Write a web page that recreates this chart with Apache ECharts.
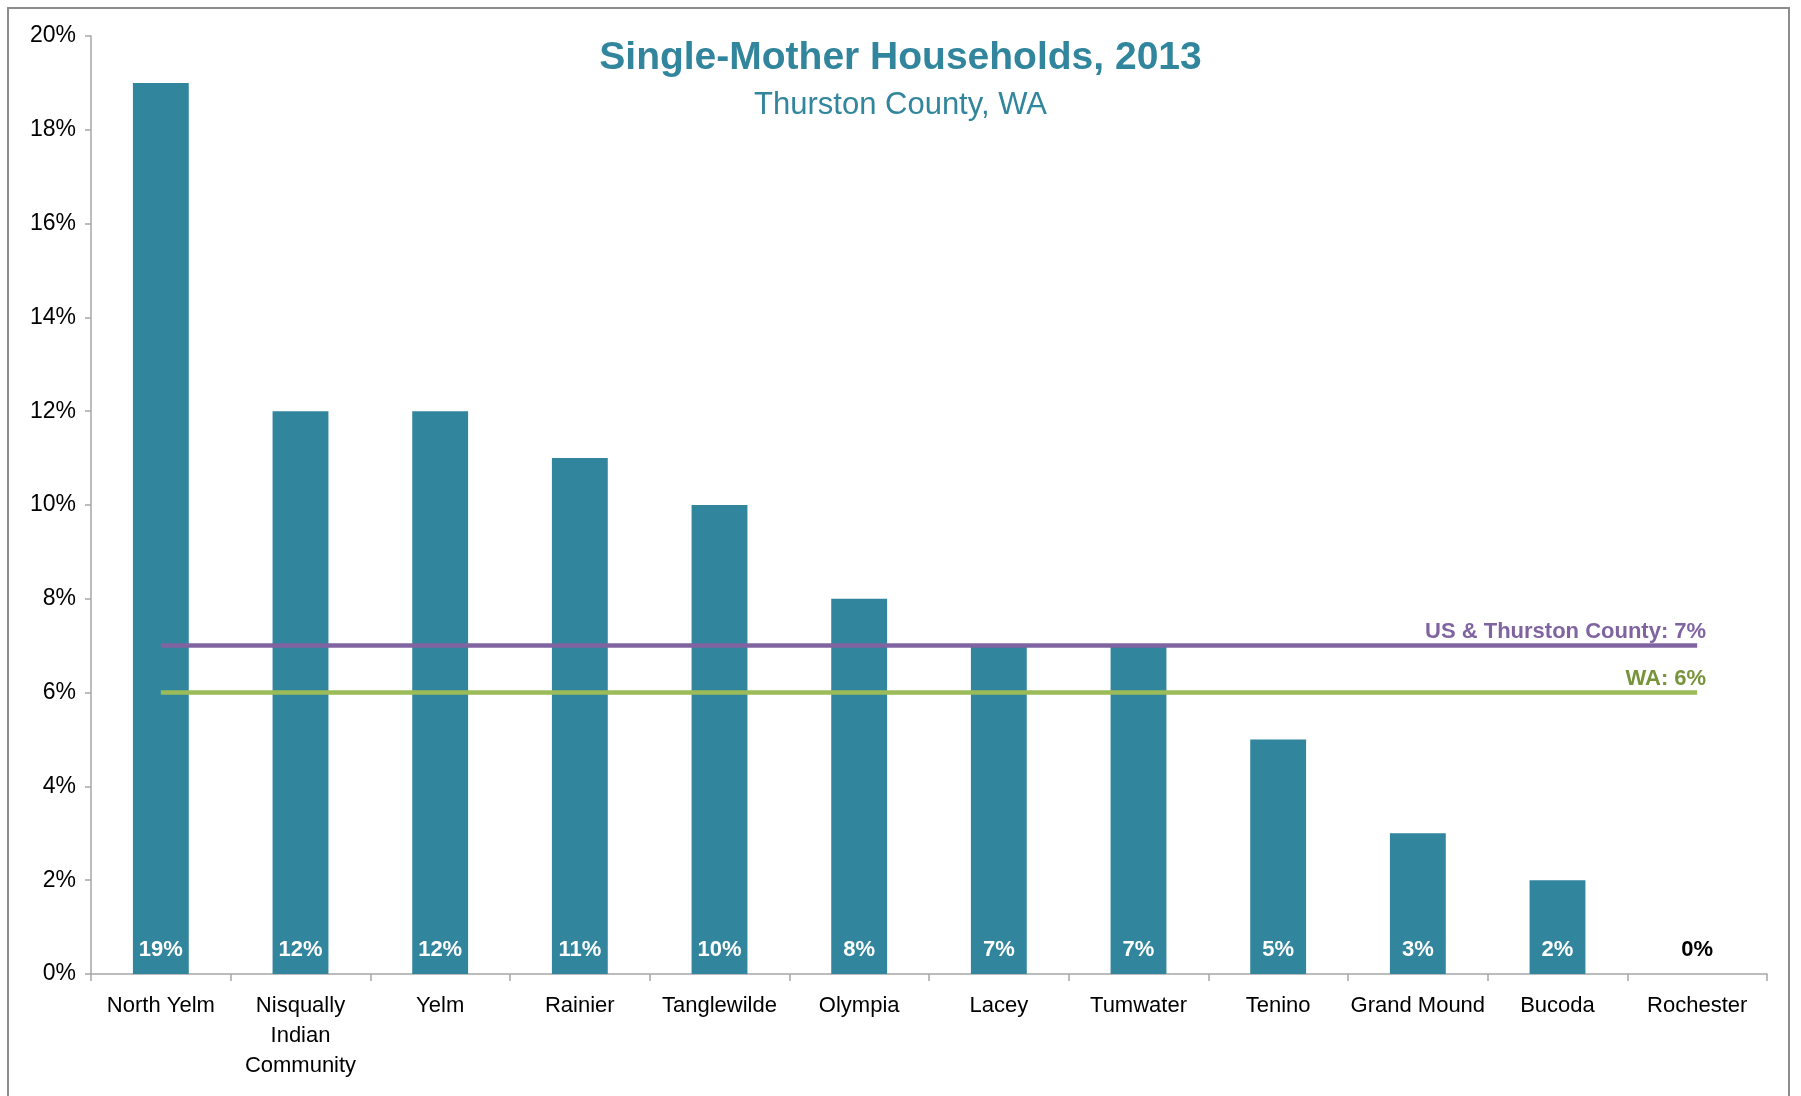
<!DOCTYPE html>
<html>
<head>
<meta charset="utf-8">
<script src="https://cdn.jsdelivr.net/npm/echarts@6/dist/echarts.min.js"></script>
<style>
    html, body { margin: 0; padding: 0; background: #fff; overflow: hidden; }
    #frame { position: absolute; left: 7px; top: 7px; width: 1783px; height: 1200px; border: 2px solid #8c8c8c; box-sizing: border-box; }
    #chart { position: absolute; left: 0; top: 0; width: 1801px; height: 1096px; }
</style>
</head>
<body>
<div id="frame"></div>
<div id="chart"></div>
<script>
// chart data
const categories = ['North Yelm', 'Nisqually\nIndian\nCommunity', 'Yelm', 'Rainier', 'Tanglewilde', 'Olympia', 'Lacey', 'Tumwater', 'Tenino', 'Grand Mound', 'Bucoda', 'Rochester']
const shares = [19, 12, 12, 11, 10, 8, 7, 7, 5, 3, 2, 0]
const usThurston = 7
const waState = 6
const yTicks = [0, 2, 4, 6, 8, 10, 12, 14, 16, 18, 20]

const FONT = '"Liberation Sans Narrow", "Arial Narrow", "Liberation Sans", sans-serif'
const TEAL = '#31859C'

const myChart = echarts.init(document.getElementById('chart'))

var option = {
    animation: false,
    title: {
        left: 'center',
        top: 34,
        text: 'Single-Mother Households, 2013',
        subtext: 'Thurston County, WA',
        itemGap: 12,
        textStyle: {
            color: TEAL,
            fontSize: 39,
            fontWeight: 'bold',
            fontFamily: FONT
        },
        subtextStyle: {
            color: TEAL,
            fontSize: 31,
            fontFamily: FONT
        }
    },
    grid: {
        left: 91,
        right: 34,
        top: 36,
        bottom: 122,
        containLabel: false
    },
    xAxis: {
        type: 'category',
        data: categories,
        axisLine: { lineStyle: { color: '#a6a6a6', width: 1.5 } },
        axisTick: { show: true, length: 7, lineStyle: { color: '#a6a6a6', width: 1.5 } },
        axisLabel: {
            color: '#000',
            fontSize: 22,
            lineHeight: 30,
            margin: 17,
            interval: 0,
            fontFamily: FONT
        }
    },
    yAxis: {
        type: 'value',
        min: yTicks[0],
        max: yTicks[yTicks.length - 1],
        interval: 2,
        splitLine: { show: false },
        axisLine: { show: true, lineStyle: { color: '#a6a6a6', width: 1.5 } },
        axisTick: { show: true, length: 6, lineStyle: { color: '#a6a6a6', width: 1.5 } },
        axisLabel: {
            color: '#000',
            fontSize: 23,
            margin: 15,
            fontFamily: FONT,
            formatter: '{value}%'
        }
    },
    series: [{
        name: 'Single-mother households',
        type: 'bar',
        barCategoryGap: '60%',
        data: shares.map(v => ({
            value: v,
            label: { color: v === 0 ? '#000' : '#fff' }
        })),
        itemStyle: { color: TEAL },
        label: {
            show: true,
            position: 'insideBottom',
            distance: 13,
            fontSize: 22,
            fontWeight: 'bold',
            fontFamily: FONT,
            formatter: '{c}%'
        },
        markLine: {
            silent: true,
            symbol: ['none', 'none'],
            data: [
                [
                    { coord: [0, usThurston], lineStyle: { color: '#8064A2', width: 4.5, type: 'solid' },
                      label: { color: '#8064A2', formatter: 'US & Thurston County: ' + usThurston + '%' } },
                    { coord: [categories.length - 1, usThurston] }
                ],
                [
                    { coord: [0, waState], lineStyle: { color: '#9BBB59', width: 4.5, type: 'solid' },
                      label: { color: '#77933C', formatter: 'WA: ' + waState + '%' } },
                    { coord: [categories.length - 1, waState] }
                ]
            ],
            label: {
                show: true,
                position: 'insideEndTop',
                distance: [-9, 3],
                fontSize: 22,
                fontWeight: 'bold',
                fontFamily: FONT
            }
        }
    }]
}
myChart.setOption(option, true)
</script>
</body>
</html>
